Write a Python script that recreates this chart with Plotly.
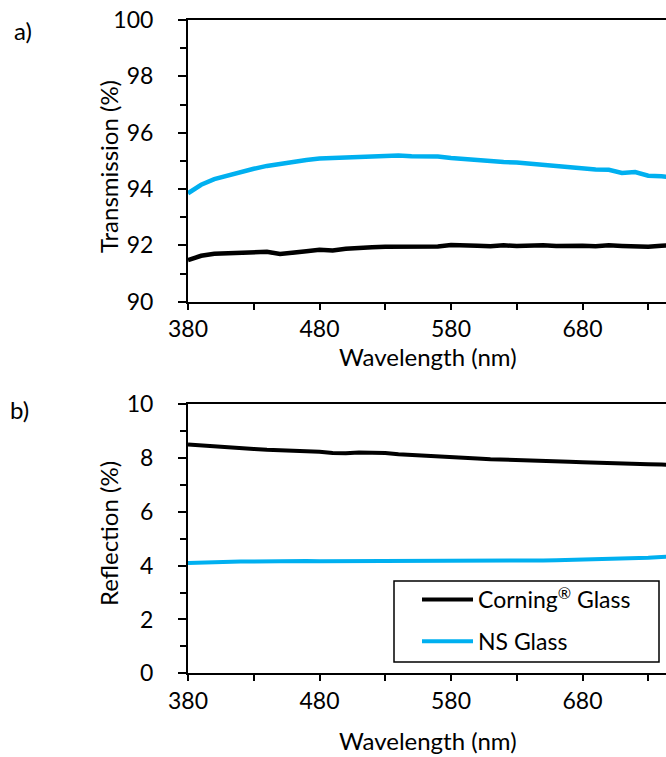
import plotly.graph_objects as go

wavelength = [380, 390, 400, 410, 420, 430, 440, 450, 460, 470, 480, 490, 500, 510, 520,
              530, 540, 550, 560, 570, 580, 590, 600, 610, 620, 630, 640, 650, 660, 670,
              680, 690, 700, 710, 720, 730, 740, 750]

trans_corning = [91.48, 91.63, 91.70, 91.72, 91.72, 91.74, 91.77, 91.69, 91.76, 91.79,
                 91.84, 91.82, 91.88, 91.89, 91.93, 91.95, 91.96, 91.97, 91.97, 91.96,
                 92.01, 91.98, 91.99, 91.97, 92.00, 91.98, 92.00, 92.00, 91.98, 92.00,
                 91.99, 91.97, 92.00, 91.98, 91.96, 91.95, 91.99, 92.00]

trans_ns = [93.85, 94.15, 94.35, 94.48, 94.62, 94.72, 94.82, 94.90, 94.98, 95.03,
            95.08, 95.10, 95.12, 95.16, 95.18, 95.20, 95.19, 95.16, 95.15, 95.15,
            95.10, 95.06, 95.04, 95.00, 94.96, 94.94, 94.90, 94.84, 94.80, 94.77,
            94.72, 94.69, 94.68, 94.57, 94.60, 94.47, 94.45, 94.42]

refl_corning = [8.50, 8.46, 8.43, 8.40, 8.37, 8.33, 8.30, 8.28, 8.27, 8.26,
                8.23, 8.18, 8.17, 8.20, 8.20, 8.18, 8.13, 8.11, 8.09, 8.07,
                8.04, 8.02, 7.98, 7.95, 7.94, 7.92, 7.91, 7.89, 7.87, 7.86,
                7.84, 7.82, 7.80, 7.77, 7.77, 7.76, 7.75, 7.74]

refl_ns = [4.10, 4.12, 4.13, 4.14, 4.15, 4.15, 4.16, 4.16, 4.17, 4.17,
           4.16, 4.16, 4.17, 4.17, 4.17, 4.17, 4.17, 4.16, 4.16, 4.16,
           4.16, 4.16, 4.16, 4.16, 4.17, 4.17, 4.18, 4.19, 4.20, 4.21,
           4.22, 4.23, 4.25, 4.26, 4.27, 4.29, 4.32, 4.33]

series_names = ["Corning<sup>®</sup> Glass", "NS Glass"]
series_colors = ["#000000", "#00B0F0"]

W, H = 666, 757
FONT = "Lato"
FS_TICK = 23
FS_TITLE = 24
FS_LEG = 23

fig = go.Figure()
for yvals, name, col in [(trans_corning, series_names[0], series_colors[0]),
                         (trans_ns, series_names[1], series_colors[1])]:
    fig.add_trace(go.Scatter(x=wavelength, y=yvals, mode="lines", name=name,
                             line=dict(color=col, width=4.5), showlegend=False,
                             xaxis="x", yaxis="y"))
for i, (yvals, name, col) in enumerate([(refl_corning, series_names[0], series_colors[0]),
                                        (refl_ns, series_names[1], series_colors[1])]):
    fig.add_trace(go.Scatter(x=wavelength, y=yvals, mode="lines", name=name,
                             legendgroup="g%d" % i,
                             line=dict(color=col, width=4), showlegend=True,
                             xaxis="x2", yaxis="y2"))

x0 = 188 / W
top_dom = [(H - 301.7) / H, (H - 20) / H]
bot_dom = [(H - 673.3) / H, (H - 404) / H]

xcommon = dict(range=[380, 743.5], tick0=380, dtick=100, ticks="outside", ticklen=6,
               tickwidth=2, tickcolor="black", showline=True, linecolor="black",
               linewidth=2, mirror=True, showgrid=False, zeroline=False,
               ticklabelstandoff=0, automargin=False,
               minor=dict(tick0=380, dtick=50, ticks="outside", ticklen=6,
                          tickwidth=2, tickcolor="black"),
               tickfont=dict(family=FONT, size=FS_TICK, color="black"))
ycommon = dict(ticks="outside", ticklen=8, tickwidth=2, tickcolor="black",
               showline=True, linecolor="black", linewidth=2, showgrid=False,
               zeroline=False, ticklabelstandoff=20, automargin=False,
               minor=dict(dtick=1, ticks="outside", ticklen=6, tickwidth=2,
                          tickcolor="black"),
               tickfont=dict(family=FONT, size=FS_TICK, color="black"))

fig.update_layout(
    width=W, height=H,
    margin=dict(l=0, r=0, t=0, b=0),
    paper_bgcolor="white", plot_bgcolor="white",
    font=dict(family=FONT, size=FS_TICK, color="black"),
    xaxis=dict(domain=[x0, 1], anchor="y", **xcommon),
    yaxis=dict(domain=top_dom, anchor="x", range=[90, 100], tick0=90, dtick=2, **ycommon),
    xaxis2=dict(domain=[x0, 1], anchor="y2", **xcommon),
    yaxis2=dict(domain=bot_dom, anchor="x2", range=[0, 10], tick0=0, dtick=2, **ycommon),
    legend=dict(x=417 / W, y=(H - 578) / H, xanchor="left", yanchor="top",
                borderwidth=0, bgcolor="rgba(0,0,0,0)",
                font=dict(family=FONT, size=FS_LEG, color="black"),
                itemwidth=51, traceorder="grouped", tracegroupgap=9),
    showlegend=True,
    shapes=[dict(type="rect", xref="paper", yref="paper",
                 x0=394 / W, x1=659 / W, y0=(H - 662) / H, y1=(H - 581) / H,
                 line=dict(color="black", width=1.5), fillcolor="rgba(0,0,0,0)",
                 layer="above")],
)

annots = [
    dict(text="a)", x=12 / W, y=(H - 30) / H, xanchor="left"),
    dict(text="b)", x=8 / W, y=(H - 409) / H, xanchor="left"),
    dict(text="Wavelength (nm)", x=428 / W, y=(H - 357) / H, xanchor="center"),
    dict(text="Wavelength (nm)", x=428 / W, y=(H - 740) / H, xanchor="center"),
]
for a in annots:
    fig.add_annotation(xref="paper", yref="paper", showarrow=False, yanchor="middle",
                       font=dict(family=FONT, size=FS_TITLE, color="black"), **a)
fig.add_annotation(xref="paper", yref="paper", showarrow=False, text="Transmission (%)",
                   x=108 / W, y=(H - 167) / H, textangle=-90, xanchor="center", yanchor="middle",
                   font=dict(family=FONT, size=FS_TITLE, color="black"))
fig.add_annotation(xref="paper", yref="paper", showarrow=False, text="Reflection (%)",
                   x=108 / W, y=(H - 534) / H, textangle=-90, xanchor="center", yanchor="middle",
                   font=dict(family=FONT, size=FS_TITLE, color="black"))

fig.write_html("out.html", config={"displayModeBar": False},
               post_script="document.body.style.margin='0';document.body.style.overflow='hidden';")
